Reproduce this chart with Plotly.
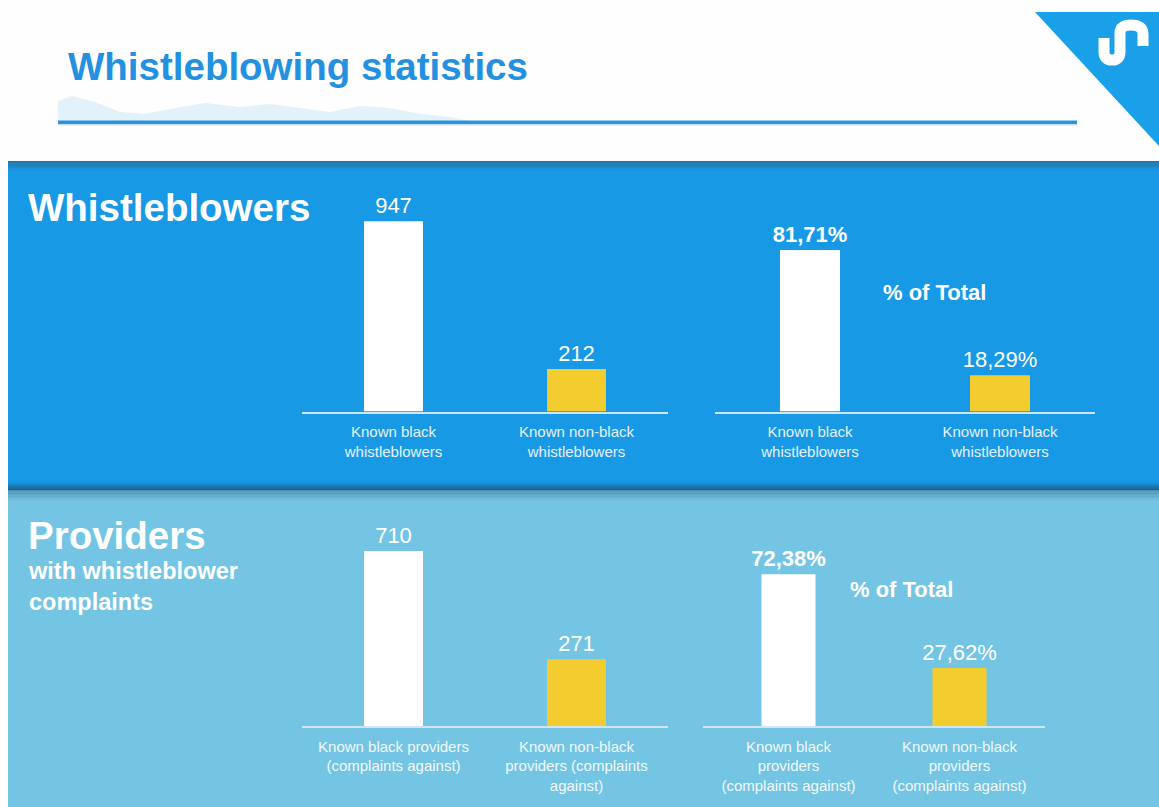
import plotly.graph_objects as go

# ---------------- data ----------------
wb_labels = ["Known black<br>whistleblowers", "Known non-black<br>whistleblowers"]
wb_counts = [947, 212]
wb_pct = [81.71, 18.29]

pr_labels_count = ["Known black providers<br>(complaints against)",
                   "Known non-black<br>providers (complaints<br>against)"]
pr_labels_pct = ["Known black<br>providers<br>(complaints against)",
                 "Known non-black<br>providers<br>(complaints against)"]
pr_counts = [710, 271]
pr_pct = [72.38, 27.62]

title_text = "Whistleblowing statistics"
section1_title = "Whistleblowers"
section2_title = "Providers"
section2_sub = "with whistleblower<br>complaints"
pct_title = "% of Total"

# ---------------- layout helpers ----------------
W, H = 1159, 807
def X(px): return px / W
def Y(py): return 1 - py / H

FONT = "Liberation Sans, Arial, sans-serif"
WHITE = "#ffffff"
YELLOW = "#F3CD2F"
BAND1 = "#1799E6"
BAND2 = "#74C5E3"
TITLE_BLUE = "#2391DF"

def fmt_pct(v, bold=False):
    s = f"{v:.2f}".replace(".", ",") + "%"
    return f"<b>{s}</b>" if bold else s

fig = go.Figure()

panels = [
    dict(cats=wb_labels, vals=wb_counts, text=[str(v) for v in wb_counts],
         xl=302, xr=668, base=411.5, top=175, calib=(947, 221.3), width=0.322,
         tickcolor="#E6F1FA"),
    dict(cats=wb_labels, vals=wb_pct, text=[fmt_pct(wb_pct[0], True), fmt_pct(wb_pct[1])],
         xl=715, xr=1095, base=411.5, top=195, calib=(81.71, 250), width=0.316,
         tickcolor="#E6F1FA"),
    dict(cats=pr_labels_count, vals=pr_counts, text=[str(v) for v in pr_counts],
         xl=302, xr=668, base=726, top=505, calib=(710, 551), width=0.322,
         tickcolor="#F1F8FC"),
    dict(cats=pr_labels_pct, vals=pr_pct, text=[fmt_pct(pr_pct[0], True), fmt_pct(pr_pct[1])],
         xl=703, xr=1045, base=726, top=525, calib=(72.38, 574.3), width=0.316,
         tickcolor="#F1F8FC"),
]

for i, p in enumerate(panels, start=1):
    sfx = "" if i == 1 else str(i)
    fig.add_trace(go.Bar(
        x=p["cats"], y=p["vals"], text=p["text"],
        textposition="outside", constraintext="none", cliponaxis=False,
        textfont=dict(family=FONT, size=22, color=WHITE),
        marker=dict(color=[WHITE, YELLOW], line=dict(width=0)),
        width=p["width"], hoverinfo="skip", showlegend=False,
        xaxis="x" + sfx, yaxis="y" + sfx,
    ))
    v0, top_px = p["calib"]
    rmax = v0 * (p["base"] - p["top"]) / (p["base"] - top_px)
    fig.layout["xaxis" + sfx] = dict(
        domain=[X(p["xl"]), X(p["xr"])], anchor="y" + sfx, type="category",
        range=[-0.5, 1.5], showline=True, linecolor="#CFE5F5", linewidth=1.5,
        ticks="", showgrid=False, zeroline=False, fixedrange=True,
        tickfont=dict(family=FONT, size=15, color=p["tickcolor"]),
        ticklabelstandoff=6,
    )
    fig.layout["yaxis" + sfx] = dict(
        domain=[Y(p["base"]), Y(p["top"])], anchor="x" + sfx, range=[0, rmax],
        visible=False, fixedrange=True,
    )

shapes = []
# header mountain watermark (faint)
mtn = [(58, 121), (58, 101), (72, 96), (95, 102), (120, 112), (145, 114), (170, 109),
       (205, 103), (240, 107), (270, 104), (300, 108), (330, 112), (360, 106),
       (390, 108), (420, 114), (450, 117), (470, 121)]
path = "M" + " L".join(f"{X(a):.5f},{Y(b):.5f}" for a, b in mtn) + " Z"
shapes.append(dict(type="path", path=path, xref="paper", yref="paper",
                   fillcolor="#E3F1FA", line=dict(width=0), layer="below"))
# header underline
shapes.append(dict(type="rect", xref="paper", yref="paper", x0=X(58), x1=X(1077),
                   y0=Y(125.5), y1=Y(124), fillcolor="#C9DDEA", line=dict(width=0)))
shapes.append(dict(type="rect", xref="paper", yref="paper", x0=X(58), x1=X(1077),
                   y0=Y(124), y1=Y(120.5), fillcolor="#2995DF", line=dict(width=0)))
# logo triangle
tri = [(1035, 12), (1159, 12), (1159, 146)]
path = "M" + " L".join(f"{X(a):.5f},{Y(b):.5f}" for a, b in tri) + " Z"
shapes.append(dict(type="path", path=path, xref="paper", yref="paper",
                   fillcolor="#19A0E8", line=dict(width=0)))
# logo glyph
def P(a, b): return f"{X(a):.5f},{Y(b):.5f}"
glyph = (f"M{P(1104,38)} L{P(1104,52)} Q{P(1104,60)} {P(1112,60)} "
         f"Q{P(1120,60)} {P(1120,52)} L{P(1120,33)} Q{P(1120,25)} {P(1131,25)} "
         f"Q{P(1143,25)} {P(1143,34)} L{P(1143,46)}")
shapes.append(dict(type="path", path=glyph, xref="paper", yref="paper",
                   fillcolor="rgba(0,0,0,0)", line=dict(color=WHITE, width=11)))

# bands
shapes.append(dict(type="rect", xref="paper", yref="paper", x0=X(8), x1=1,
                   y0=Y(491), y1=Y(161), fillcolor=BAND1, line=dict(width=0), layer="below"))
shapes.append(dict(type="rect", xref="paper", yref="paper", x0=X(8), x1=1,
                   y0=0, y1=Y(491), fillcolor=BAND2, line=dict(width=0), layer="below"))

def hex2rgb(h):
    h = h.lstrip("#"); return tuple(int(h[i:i+2], 16) for i in (0, 2, 4))
def mix(c1, c2, t):
    a, b = hex2rgb(c1), hex2rgb(c2)
    return "rgb(%d,%d,%d)" % tuple(round(a[k] + (b[k] - a[k]) * t) for k in range(3))

def gradient(y_start, y_end, c_start, c_end, n=8):
    step = (y_end - y_start) / n
    for k in range(n):
        ya, yb = y_start + k * step, y_start + (k + 1) * step
        shapes.append(dict(type="rect", xref="paper", yref="paper", x0=X(8), x1=1,
                           y0=Y(max(ya, yb)), y1=Y(min(ya, yb)),
                           fillcolor=mix(c_start, c_end, (k + 0.5) / n),
                           line=dict(width=0), layer="below"))

gradient(161, 171, "#2C6D93", BAND1)
gradient(482, 490, BAND1, "#1C5F88")
gradient(490, 501, "#4B8DAF", BAND2)

annotations = [
    dict(text=f"<b>{title_text}</b>", x=X(66), y=Y(67), xref="paper", yref="paper",
         xanchor="left", yanchor="middle", showarrow=False,
         font=dict(family=FONT, size=38.5, color=TITLE_BLUE)),
    dict(text=f"<b>{section1_title}</b>", x=X(26), y=Y(208), xref="paper", yref="paper",
         xanchor="left", yanchor="middle", showarrow=False,
         font=dict(family=FONT, size=38.5, color=WHITE)),
    dict(text=f"<b>{section2_title}</b>", x=X(26), y=Y(535), xref="paper", yref="paper",
         xanchor="left", yanchor="middle", showarrow=False,
         font=dict(family=FONT, size=38.5, color=WHITE)),
    dict(text=f"<b>{section2_sub}</b>", x=X(26), y=Y(556), xref="paper", yref="paper",
         xanchor="left", yanchor="top", align="left", showarrow=False,
         font=dict(family=FONT, size=23.5, color=WHITE)),
    dict(text=f"<b>{pct_title}</b>", x=X(934), y=Y(292), xref="paper", yref="paper",
         xanchor="center", yanchor="middle", showarrow=False,
         font=dict(family=FONT, size=22, color=WHITE)),
    dict(text=f"<b>{pct_title}</b>", x=X(901), y=Y(589), xref="paper", yref="paper",
         xanchor="center", yanchor="middle", showarrow=False,
         font=dict(family=FONT, size=22, color=WHITE)),
]

fig.update_layout(
    width=W, height=H, margin=dict(l=0, r=0, t=0, b=0),
    paper_bgcolor="#FEFEFE", plot_bgcolor="rgba(0,0,0,0)",
    shapes=shapes, annotations=annotations, showlegend=False,
    font=dict(family=FONT),
)

fig.write_html("out.html", config={"displayModeBar": False})
